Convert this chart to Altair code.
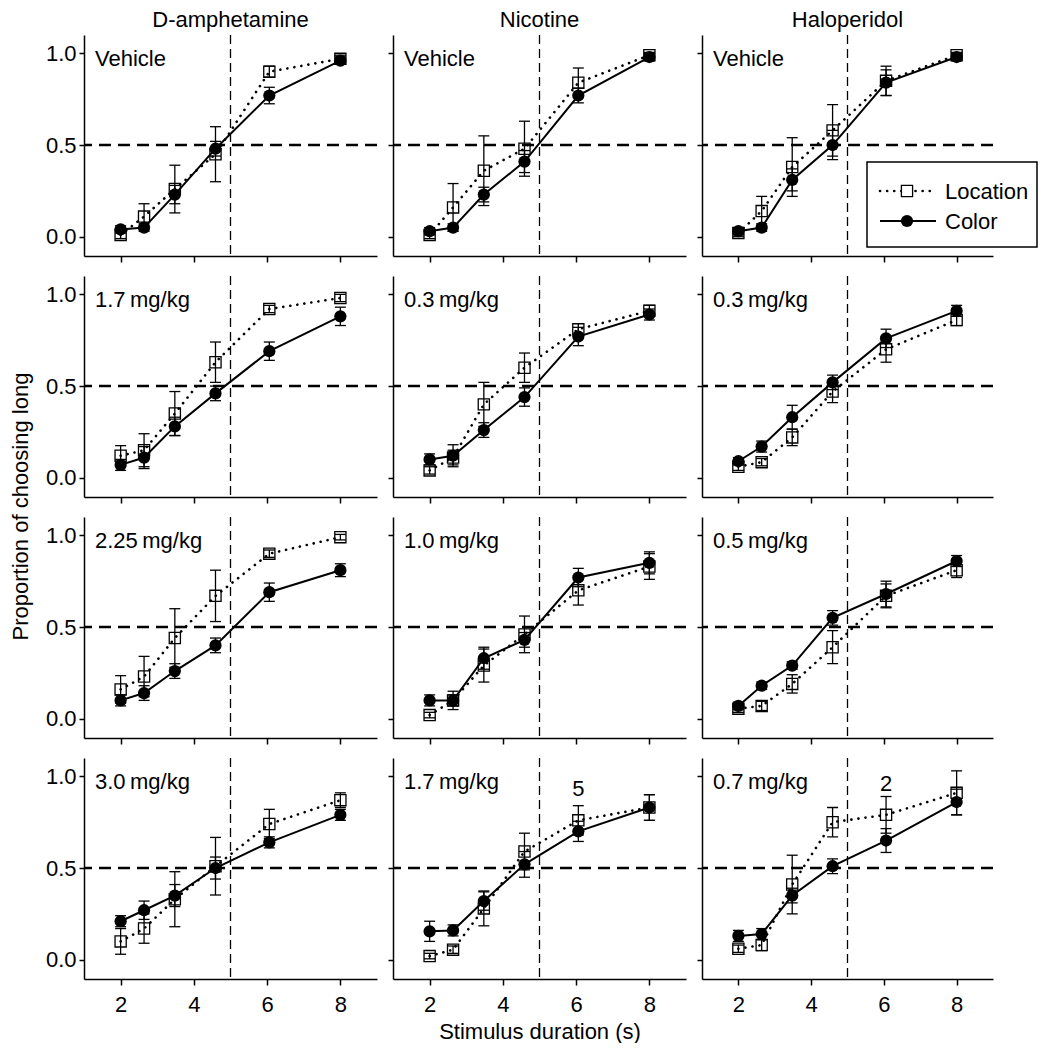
import altair as alt
import pandas as pd

FONT = "Liberation Sans"
FS = 22

DURATIONS = [2.0, 2.64, 3.48, 4.59, 6.06, 8.0]
DRUGS = ["D-amphetamine", "Nicotine", "Haloperidol"]
DOSES = [
    ["Vehicle", "1.7\u2009mg/kg", "2.25\u2009mg/kg", "3.0\u2009mg/kg"],
    ["Vehicle", "0.3\u2009mg/kg", "1.0\u2009mg/kg", "1.7\u2009mg/kg"],
    ["Vehicle", "0.3\u2009mg/kg", "0.5\u2009mg/kg", "0.7\u2009mg/kg"],
]
SERIES = ["Location", "Color"]

# ---- D-amphetamine ----
AMPH_VEH_LOC = [0.01, 0.11, 0.26, 0.45, 0.90, 0.97]
AMPH_VEH_LOC_SE = [0.02, 0.07, 0.13, 0.15, 0.03, 0.02]
AMPH_VEH_COL = [0.04, 0.05, 0.23, 0.48, 0.77, 0.96]
AMPH_VEH_COL_SE = [0.02, 0.02, 0.05, 0.04, 0.045, 0.02]

AMPH_17_LOC = [0.12, 0.15, 0.35, 0.63, 0.92, 0.98]
AMPH_17_LOC_SE = [0.055, 0.09, 0.12, 0.11, 0.02, 0.02]
AMPH_17_COL = [0.07, 0.11, 0.28, 0.46, 0.69, 0.88]
AMPH_17_COL_SE = [0.03, 0.06, 0.05, 0.04, 0.05, 0.05]

AMPH_225_LOC = [0.16, 0.23, 0.44, 0.67, 0.90, 0.99]
AMPH_225_LOC_SE = [0.075, 0.11, 0.16, 0.14, 0.02, 0.015]
AMPH_225_COL = [0.10, 0.14, 0.26, 0.40, 0.69, 0.81]
AMPH_225_COL_SE = [0.03, 0.04, 0.04, 0.04, 0.05, 0.035]

AMPH_30_LOC = [0.10, 0.17, 0.33, 0.51, 0.74, 0.87]
AMPH_30_LOC_SE = [0.07, 0.08, 0.15, 0.157, 0.08, 0.04]
AMPH_30_COL = [0.21, 0.27, 0.35, 0.50, 0.64, 0.79]
AMPH_30_COL_SE = [0.03, 0.05, 0.06, 0.06, 0.03, 0.03]

# ---- Nicotine ----
NIC_VEH_LOC = [0.01, 0.16, 0.36, 0.48, 0.84, 0.99]
NIC_VEH_LOC_SE = [0.02, 0.13, 0.19, 0.15, 0.08, 0.015]
NIC_VEH_COL = [0.03, 0.05, 0.23, 0.41, 0.77, 0.98]
NIC_VEH_COL_SE = [0.02, 0.02, 0.04, 0.06, 0.04, 0.02]

NIC_03_LOC = [0.04, 0.11, 0.40, 0.60, 0.81, 0.91]
NIC_03_LOC_SE = [0.02, 0.04, 0.12, 0.08, 0.03, 0.03]
NIC_03_COL = [0.10, 0.12, 0.26, 0.44, 0.77, 0.89]
NIC_03_COL_SE = [0.03, 0.06, 0.04, 0.05, 0.05, 0.03]

NIC_10_LOC = [0.02, 0.10, 0.29, 0.46, 0.70, 0.83]
NIC_10_LOC_SE = [0.015, 0.03, 0.09, 0.10, 0.08, 0.07]
NIC_10_COL = [0.10, 0.10, 0.33, 0.43, 0.77, 0.85]
NIC_10_COL_SE = [0.03, 0.05, 0.06, 0.04, 0.05, 0.06]

NIC_17_LOC = [0.02, 0.055, 0.28, 0.59, 0.76, 0.83]
NIC_17_LOC_SE = [0.015, 0.02, 0.095, 0.10, 0.08, 0.07]
NIC_17_COL = [0.155, 0.16, 0.32, 0.52, 0.70, 0.83]
NIC_17_COL_SE = [0.055, 0.03, 0.05, 0.07, 0.055, 0.07]

# ---- Haloperidol ----
HAL_VEH_LOC = [0.02, 0.14, 0.38, 0.58, 0.85, 0.99]
HAL_VEH_LOC_SE = [0.02, 0.08, 0.16, 0.14, 0.08, 0.015]
HAL_VEH_COL = [0.03, 0.05, 0.31, 0.50, 0.84, 0.98]
HAL_VEH_COL_SE = [0.02, 0.02, 0.06, 0.08, 0.07, 0.02]

HAL_03_LOC = [0.06, 0.085, 0.22, 0.47, 0.70, 0.86]
HAL_03_LOC_SE = [0.02, 0.02, 0.045, 0.06, 0.07, 0.03]
HAL_03_COL = [0.09, 0.17, 0.33, 0.52, 0.76, 0.91]
HAL_03_COL_SE = [0.02, 0.03, 0.065, 0.04, 0.05, 0.03]

HAL_05_LOC = [0.055, 0.07, 0.19, 0.39, 0.67, 0.81]
HAL_05_LOC_SE = [0.02, 0.025, 0.05, 0.09, 0.065, 0.04]
HAL_05_COL = [0.07, 0.18, 0.29, 0.55, 0.68, 0.86]
HAL_05_COL_SE = [0.02, 0.02, 0.02, 0.04, 0.07, 0.03]

HAL_07_LOC = [0.06, 0.08, 0.41, 0.75, 0.79, 0.91]
HAL_07_LOC_SE = [0.02, 0.03, 0.16, 0.08, 0.10, 0.12]
HAL_07_COL = [0.13, 0.14, 0.35, 0.51, 0.65, 0.86]
HAL_07_COL_SE = [0.03, 0.03, 0.04, 0.04, 0.065, 0.07]

# annotations (sample sizes)
NOTE_PANELS = [(1, 3), (2, 3)]
NOTE_TEXT = ["5", "2"]
NOTE_X = [6.06, 6.06]
NOTE_Y = [0.93, 0.96]

PANELS = {
    (0, 0): (AMPH_VEH_LOC, AMPH_VEH_LOC_SE, AMPH_VEH_COL, AMPH_VEH_COL_SE),
    (0, 1): (AMPH_17_LOC, AMPH_17_LOC_SE, AMPH_17_COL, AMPH_17_COL_SE),
    (0, 2): (AMPH_225_LOC, AMPH_225_LOC_SE, AMPH_225_COL, AMPH_225_COL_SE),
    (0, 3): (AMPH_30_LOC, AMPH_30_LOC_SE, AMPH_30_COL, AMPH_30_COL_SE),
    (1, 0): (NIC_VEH_LOC, NIC_VEH_LOC_SE, NIC_VEH_COL, NIC_VEH_COL_SE),
    (1, 1): (NIC_03_LOC, NIC_03_LOC_SE, NIC_03_COL, NIC_03_COL_SE),
    (1, 2): (NIC_10_LOC, NIC_10_LOC_SE, NIC_10_COL, NIC_10_COL_SE),
    (1, 3): (NIC_17_LOC, NIC_17_LOC_SE, NIC_17_COL, NIC_17_COL_SE),
    (2, 0): (HAL_VEH_LOC, HAL_VEH_LOC_SE, HAL_VEH_COL, HAL_VEH_COL_SE),
    (2, 1): (HAL_03_LOC, HAL_03_LOC_SE, HAL_03_COL, HAL_03_COL_SE),
    (2, 2): (HAL_05_LOC, HAL_05_LOC_SE, HAL_05_COL, HAL_05_COL_SE),
    (2, 3): (HAL_07_LOC, HAL_07_LOC_SE, HAL_07_COL, HAL_07_COL_SE),
}

W = [293, 293, 291]
H = 221
XSCALE = alt.Scale(domain=[1, 9], nice=False, zero=False)
YSCALE = alt.Scale(domain=[-0.105, 1.1], nice=False, zero=False)
DOTS = [0.1, 7]


def make_panel(di, ri):
    loc, loc_se, col, col_se = PANELS[(di, ri)]
    rows, caps = [], []
    for cond, m, s in ((SERIES[0], loc, loc_se), (SERIES[1], col, col_se)):
        for x, v, e in zip(DURATIONS, m, s):
            rows.append(dict(cond=cond, x=x, y=v, lo=v - e, hi=v + e))
            caps.append(dict(cond=cond, x=x, y=v - e))
            caps.append(dict(cond=cond, x=x, y=v + e))
    df = pd.DataFrame(rows)
    cdf = pd.DataFrame(caps)
    dloc = df[df.cond == SERIES[0]]
    dcol = df[df.cond == SERIES[1]]
    cloc = cdf[cdf.cond == SERIES[0]]
    ccol = cdf[cdf.cond == SERIES[1]]

    show_x = ri == 3
    show_y = di == 0
    xaxis_kw = dict(values=[2, 4, 6, 8], labels=show_x, tickSize=6, labelPadding=9,
                    format="d")
    if show_x and di == 1:
        xaxis_kw.update(title="Stimulus duration (s)", titlePadding=6)
    else:
        xaxis_kw.update(title=None)
    yaxis_kw = dict(values=[0, 0.5, 1.0], labels=show_y, tickSize=5, labelPadding=3,
                    format=".1f")
    if show_y and ri == 1:
        yaxis_kw.update(title="Proportion of choosing long", titleX=-52, titleY=230,
                        titleAngle=270, titleAlign="center", titleBaseline="bottom")
    else:
        yaxis_kw.update(title=None)
    xaxis = alt.Axis(**xaxis_kw)
    yaxis = alt.Axis(**yaxis_kw)

    def X(f):
        return alt.X(f, type="quantitative", scale=XSCALE, axis=xaxis)

    def Y(f):
        return alt.Y(f, type="quantitative", scale=YSCALE, axis=yaxis)

    vref = alt.Chart(pd.DataFrame({"x": [5]})).mark_rule(
        color="black", strokeWidth=1.3, strokeDash=[9, 5]).encode(x=X("x"))
    href = alt.Chart(pd.DataFrame({"y": [0.5]})).mark_rule(
        color="black", strokeWidth=2.4, strokeDash=[12, 7]).encode(y=Y("y"))

    def series_layers(d, c, dotted):
        err = alt.Chart(d).mark_rule(color="black", strokeWidth=1.3).encode(
            x=X("x"), y=Y("lo"), y2="hi")
        cap = alt.Chart(c).mark_tick(color="black", orient="horizontal", size=11,
                                     thickness=1.3, opacity=1).encode(x=X("x"), y=Y("y"))
        if dotted:
            line = alt.Chart(d).mark_line(color="black", strokeWidth=2.6,
                                          strokeDash=DOTS, strokeCap="round").encode(
                x=X("x"), y=Y("y"))
            pts = alt.Chart(d).mark_point(shape="square", filled=False, size=125,
                                          color="black", strokeWidth=1.3, opacity=1).encode(
                x=X("x"), y=Y("y"))
        else:
            line = alt.Chart(d).mark_line(color="black", strokeWidth=2).encode(
                x=X("x"), y=Y("y"))
            pts = alt.Chart(d).mark_point(shape="circle", filled=True, size=150,
                                          color="black", opacity=1).encode(
                x=X("x"), y=Y("y"))
        return [err, cap, line, pts]

    layers = [vref, href]
    layers += series_layers(dloc, cloc, True)
    layers += series_layers(dcol, ccol, False)

    lab = alt.Chart(pd.DataFrame({"t": [DOSES[di][ri]]})).mark_text(
        align="left", baseline="alphabetic", fontSize=FS, font=FONT, color="black").encode(
        x=alt.value(11), y=alt.value(31), text="t:N")
    layers.append(lab)

    for (pd_i, pr_i), t, nx, ny in zip(NOTE_PANELS, NOTE_TEXT, NOTE_X, NOTE_Y):
        if (pd_i, pr_i) == (di, ri):
            ndf = pd.DataFrame({"x": [nx], "y": [ny], "t": [t]})
            layers.append(alt.Chart(ndf).mark_text(
                fontSize=FS, font=FONT, color="black", baseline="middle").encode(
                x=X("x"), y=Y("y"), text="t:N"))

    if (di, ri) == (2, 0):
        one = pd.DataFrame({"a": [0]})
        box = alt.Chart(one).mark_rect(fill="white", stroke="black", strokeWidth=1.5).encode(
            x=alt.value(165), x2=alt.value(335), y=alt.value(127), y2=alt.value(212))
        l1 = alt.Chart(one).mark_rule(color="black", strokeWidth=2.6, strokeDash=DOTS,
                                      strokeCap="round").encode(
            x=alt.value(178), x2=alt.value(234), y=alt.value(156))
        p1 = alt.Chart(one).mark_point(shape="square", filled=False, size=125, color="black",
                                       strokeWidth=1.3, opacity=1, fill="white").encode(
            x=alt.value(205), y=alt.value(156))
        l2 = alt.Chart(one).mark_rule(color="black", strokeWidth=2).encode(
            x=alt.value(178), x2=alt.value(234), y=alt.value(186))
        p2 = alt.Chart(one).mark_point(shape="circle", filled=True, size=150, color="black",
                                       opacity=1).encode(x=alt.value(205), y=alt.value(186))
        t1 = alt.Chart(pd.DataFrame({"t": [SERIES[0]]})).mark_text(
            align="left", baseline="middle", fontSize=FS, font=FONT, color="black").encode(
            x=alt.value(243), y=alt.value(157), text="t:N")
        t2 = alt.Chart(pd.DataFrame({"t": [SERIES[1]]})).mark_text(
            align="left", baseline="middle", fontSize=FS, font=FONT, color="black").encode(
            x=alt.value(243), y=alt.value(187), text="t:N")
        layers += [box, l1, p1, l2, p2, t1, t2]

    ch = alt.layer(*layers).properties(width=W[di], height=H)
    if ri == 0:
        ch = ch.properties(title=alt.TitleParams(
            DRUGS[di], fontSize=FS, font=FONT, fontWeight="normal", color="black",
            anchor="middle", offset=2))
    return ch


panels = [make_panel(di, ri) for ri in range(4) for di in range(3)]

chart = alt.concat(*panels, columns=3, spacing={"row": 20, "column": 16},
                   bounds="flush").properties(
    padding={"left": 0, "top": 0, "right": 0, "bottom": 0}, background="white"
).configure_view(stroke="transparent").configure_axis(
    grid=False, domainColor="black", domainWidth=1.5, tickColor="black", tickWidth=1.5,
    labelFont=FONT, labelFontSize=FS, labelColor="black", titleFont=FONT,
    titleFontSize=FS, titleColor="black", titleFontWeight="normal"
)

chart.save("out.html", embed_options={"renderer": "svg", "actions": False})
